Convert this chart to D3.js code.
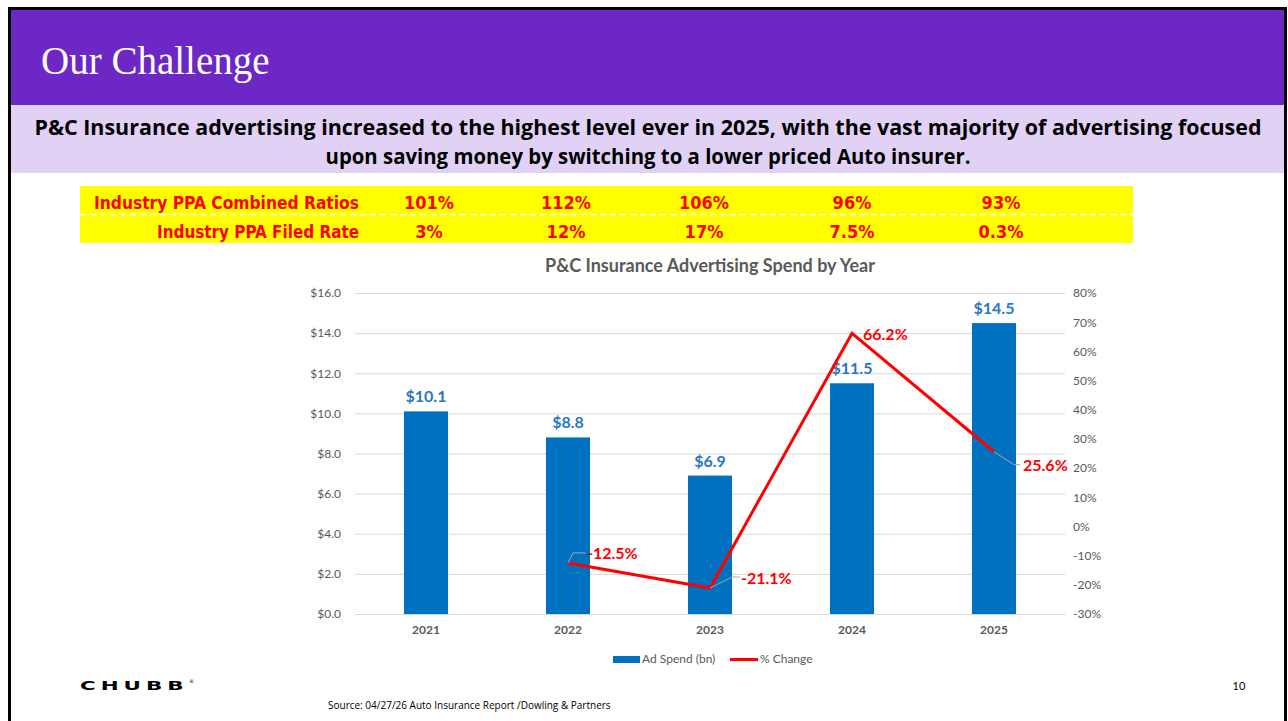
<!DOCTYPE html>
<html><head><meta charset="utf-8">
<script src="https://cdn.jsdelivr.net/npm/d3@7/dist/d3.min.js"></script>
<style>body{margin:0;background:#fff}svg{display:block}</style>
</head><body>
<svg id="c" width="1288" height="721"></svg>
<script>
const years = ["2021","2022","2023","2024","2025"];
const adSpend = [10.1, 8.8, 6.9, 11.5, 14.5];
const pctChange = [null, -12.5, -21.1, 66.2, 25.6];
const combinedRatios = ["101%","112%","106%","96%","93%"];
const filedRates = ["3%","12%","17%","7.5%","0.3%"];
const leftTicks = [0,2,4,6,8,10,12,14,16];
const rightTicks = [-30,-20,-10,0,10,20,30,40,50,60,70,80];

const svg = d3.select("#c");
const lato = "Lato, 'Open Sans', sans-serif";

// frame and header
svg.append("rect").attr("x",0).attr("y",0).attr("width",1288).attr("height",721).attr("fill","#fff");
svg.append("rect").attr("x",10).attr("y",10).attr("width",1275).attr("height",95).attr("fill","#6c27c4");
svg.append("rect").attr("x",10).attr("y",105).attr("width",1275).attr("height",68).attr("fill","#e1d1f4");
svg.append("path").attr("d","M9.5,721 V8.5 H1285.5 V721").attr("fill","none").attr("stroke","#000").attr("stroke-width",3);
svg.append("text").attr("x",41).attr("y",74).attr("fill","#fff")
  .attr("font-family","'Liberation Serif', 'DejaVu Serif', serif").attr("font-size",39).text("Our Challenge");
const sub = svg.append("text").attr("font-family","'Open Sans', Lato, sans-serif").attr("font-weight","bold").attr("font-size",20.5).attr("fill","#000").attr("text-anchor","middle");
sub.append("tspan").attr("x",648).attr("y",135).attr("textLength",1227).attr("lengthAdjust","spacingAndGlyphs").text("P&C Insurance advertising increased to the highest level ever in 2025, with the vast majority of advertising focused");
sub.append("tspan").attr("x",648).attr("y",164).attr("textLength",645).attr("lengthAdjust","spacingAndGlyphs").text("upon saving money by switching to a lower priced Auto insurer.");

// yellow table
svg.append("rect").attr("x",80).attr("y",186).attr("width",1053).attr("height",57).attr("fill","#ffff00");
svg.append("line").attr("x1",80).attr("x2",1133).attr("y1",214.5).attr("y2",214.5).attr("stroke","#fff").attr("stroke-width",1.5).attr("stroke-dasharray","6,4");
const condFont = "'Liberation Sans Narrow', 'DejaVu Sans Condensed', 'DejaVu Sans', sans-serif";
const colX = [429, 566, 704, 852, 1001];
const tbl = svg.append("g").attr("font-family",condFont).attr("font-weight","bold").attr("font-size",18).attr("fill","#ff0000");
tbl.append("text").attr("x",359).attr("y",209).attr("text-anchor","end").attr("textLength",265).attr("lengthAdjust","spacingAndGlyphs").text("Industry PPA Combined Ratios");
tbl.append("text").attr("x",359).attr("y",238).attr("text-anchor","end").attr("textLength",202).attr("lengthAdjust","spacingAndGlyphs").text("Industry PPA Filed Rate");
combinedRatios.forEach((v,i)=>tbl.append("text").attr("x",colX[i]).attr("y",209).attr("text-anchor","middle").text(v));
filedRates.forEach((v,i)=>tbl.append("text").attr("x",colX[i]).attr("y",238).attr("text-anchor","middle").text(v));

// chart
const L = 355, R = 1065, T = 293, B = 614;
const x = d3.scaleBand().domain(years).range([L,R]).paddingInner(0.69).paddingOuter(0.345);
const yL = d3.scaleLinear().domain([0,16]).range([B,T]);
const yR = d3.scaleLinear().domain([-30,80]).range([B,T]);

svg.append("text").attr("x",710).attr("y",272).attr("text-anchor","middle").attr("font-family",lato)
  .attr("font-weight","bold").attr("font-size",18).attr("fill","#595959").text("P&C Insurance Advertising Spend by Year");

const grid = svg.append("g").attr("transform",`translate(${L},0)`)
  .call(d3.axisLeft(yL).tickValues(leftTicks).tickSize(-(R-L)).tickFormat(""));
grid.select(".domain").remove();
grid.selectAll("line").attr("stroke","#d9d9d9");

const ax = svg.append("g").attr("transform",`translate(${L},0)`)
  .call(d3.axisLeft(yL).tickValues(leftTicks).tickSize(0).tickPadding(14).tickFormat(d=>"$"+d3.format(".1f")(d)));
ax.select(".domain").remove();
ax.selectAll("text").attr("font-family",lato).attr("font-size",12).attr("fill","#595959");

const axR = svg.append("g").attr("transform",`translate(${R},0)`)
  .call(d3.axisRight(yR).tickValues(rightTicks).tickSize(0).tickPadding(8).tickFormat(d=>d+"%"));
axR.select(".domain").remove();
axR.selectAll("text").attr("font-family",lato).attr("font-size",12).attr("fill","#595959");

const axX = svg.append("g").attr("transform",`translate(0,${B})`)
  .call(d3.axisBottom(x).tickSize(0).tickPadding(11));
axX.select(".domain").attr("stroke","#d9d9d9");
axX.selectAll("text").attr("font-family",lato).attr("font-size",12).attr("font-weight","bold").attr("fill","#595959");

svg.append("g").selectAll("rect").data(years).join("rect")
  .attr("x",d=>x(d)).attr("width",x.bandwidth())
  .attr("y",(d,i)=>yL(adSpend[i])).attr("height",(d,i)=>B-yL(adSpend[i])).attr("fill","#0070c0");

svg.append("g").selectAll("text").data(years).join("text")
  .attr("x",d=>x(d)+x.bandwidth()/2).attr("y",(d,i)=>yL(adSpend[i])-9)
  .attr("text-anchor","middle").attr("font-family",lato).attr("font-weight","bold").attr("font-size",16)
  .attr("fill","#2a76c8").text((d,i)=>"$"+adSpend[i].toFixed(1));

const pts = years.map((d,i)=>({x:x(d)+x.bandwidth()/2, v:pctChange[i]})).filter(p=>p.v!==null);
svg.append("path").datum(pts).attr("fill","none").attr("stroke","#ff0000").attr("stroke-width",3)
  .attr("d",d3.line().x(p=>p.x).y(p=>yR(p.v)));

// data labels with leader lines
const lab = svg.append("g").attr("font-family",lato).attr("font-weight","bold").attr("font-size",16).attr("fill","#ff0000");
const p22 = pts[0], p23 = pts[1], p24 = pts[2], p25 = pts[3];
const lead = (d)=>svg.append("path").attr("d",d).attr("fill","none").attr("stroke","#a6a6a6").attr("stroke-width",1);
lead(`M${p22.x},${yR(p22.v)} L${p22.x+5},${yR(p22.v)-10} H${p22.x+18}`);
lab.append("text").attr("x",p22.x+19).attr("y",yR(p22.v)-4).text(p22.v.toFixed(1)+"%");
lead(`M${p23.x},${yR(p23.v)} L${p23.x+22},${yR(p23.v)-11} H${p23.x+30}`);
lab.append("text").attr("x",p23.x+31).attr("y",yR(p23.v)-4).text(p23.v.toFixed(1)+"%");
lab.append("text").attr("x",p24.x+11).attr("y",yR(p24.v)+7).text(p24.v.toFixed(1)+"%");
lead(`M${p25.x},${yR(p25.v)} L${p25.x+20},${yR(p25.v)+13} H${p25.x+26}`);
lab.append("text").attr("x",p25.x+29).attr("y",yR(p25.v)+19).text(p25.v.toFixed(1)+"%");

// legend
svg.append("rect").attr("x",613).attr("y",656).attr("width",27).attr("height",7).attr("fill","#0070c0");
svg.append("text").attr("x",642).attr("y",663).attr("font-family",lato).attr("font-size",12).attr("fill","#595959").text("Ad Spend (bn)");
svg.append("line").attr("x1",730).attr("x2",758).attr("y1",659.5).attr("y2",659.5).attr("stroke","#ff0000").attr("stroke-width",3);
svg.append("text").attr("x",760).attr("y",663).attr("font-family",lato).attr("font-size",12).attr("fill","#595959").text("% Change");

// footer
svg.append("text").attr("x",80).attr("y",690).attr("font-family","'DejaVu Sans', sans-serif").attr("font-size",13)
  .attr("font-weight","bold").attr("fill","#000").attr("letter-spacing",3)
  .attr("transform","translate(80,690) scale(1.65,1.0) translate(-80,-690)").text("CHUBB");
svg.append("text").attr("x",189).attr("y",683).attr("font-family","'DejaVu Sans', sans-serif").attr("font-size",5).attr("fill","#000").text("®");
svg.append("text").attr("x",1239).attr("y",690).attr("text-anchor","middle").attr("font-family",lato).attr("font-size",11).attr("fill","#000").text("10");
svg.append("text").attr("x",328).attr("y",709).attr("font-family","'Open Sans', sans-serif").attr("font-size",10).attr("fill","#000").text("Source: 04/27/26 Auto Insurance Report /Dowling & Partners");
</script>
</body></html>
